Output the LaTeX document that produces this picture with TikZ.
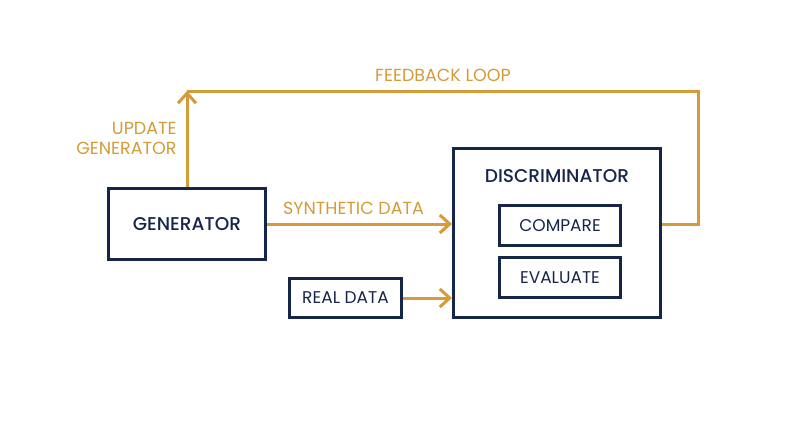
\documentclass[tikz,border=0pt]{standalone}
\usepackage{fontspec}
\setmainfont{Poppins}
\newfontfamily\medfont{Poppins Medium}
\usepackage{tikz}
\usetikzlibrary{arrows.meta}
\definecolor{navy}{HTML}{15264A}
\definecolor{gold}{HTML}{D49B38}

\begin{document}
\begin{tikzpicture}[x=1pt,y=-1pt,line width=3pt]
\tikzstyle{box}=[draw=navy,text=navy,inner sep=0pt,font=\fontsize{17}{18}\selectfont];
\tikzstyle{lbl}=[text=gold,inner sep=0pt,font=\fontsize{17.5}{20}\selectfont];
\tikzstyle{dir}=[draw=gold,-{Straight Barb[length=10pt,width=18pt,line width=3pt]}];
\tikzstyle{wire}=[draw=gold];

\useasboundingbox (0,0) rectangle (800,447);

\node [box,minimum width=157pt,minimum height=71pt,font=\fontsize{18.5}{18}\medfont] (gen) at (187,224) {GENERATOR};
\node [box,minimum width=207pt,minimum height=169pt] (disc) at (557,233) {};
\node [text=navy,inner sep=0pt,font=\fontsize{18.5}{18}\medfont] (dtitle) at (557,176) {DISCRIMINATOR};
\node [box,minimum width=121pt,minimum height=40pt] (cmp) at (560,225.5) {COMPARE};
\node [box,minimum width=121pt,minimum height=40pt] (eval) at (560,277.5) {EVALUATE};
\node [box,minimum width=112pt,minimum height=39pt] (real) at (345.5,298) {REAL DATA};

\coordinate (top) at (187,91);
\coordinate (right) at (698,91);

\draw [dir] (gen.east) -- (gen.east -| disc.west) node [lbl,pos=0.5,above=8pt,xshift=-6pt] (syn) {SYNTHETIC DATA};
\draw [dir] (real.east) -- (real.east -| disc.west);
\draw [wire] (disc.east |- gen.east) -| (right) -- (top);
\draw [dir] (gen.north) -- (top);

\node [lbl,align=right,anchor=east] (upd) at (178,138) {UPDATE\\GENERATOR};
\node [lbl] (fb) at (443,75) {FEEDBACK LOOP};
\end{tikzpicture}
\end{document}
